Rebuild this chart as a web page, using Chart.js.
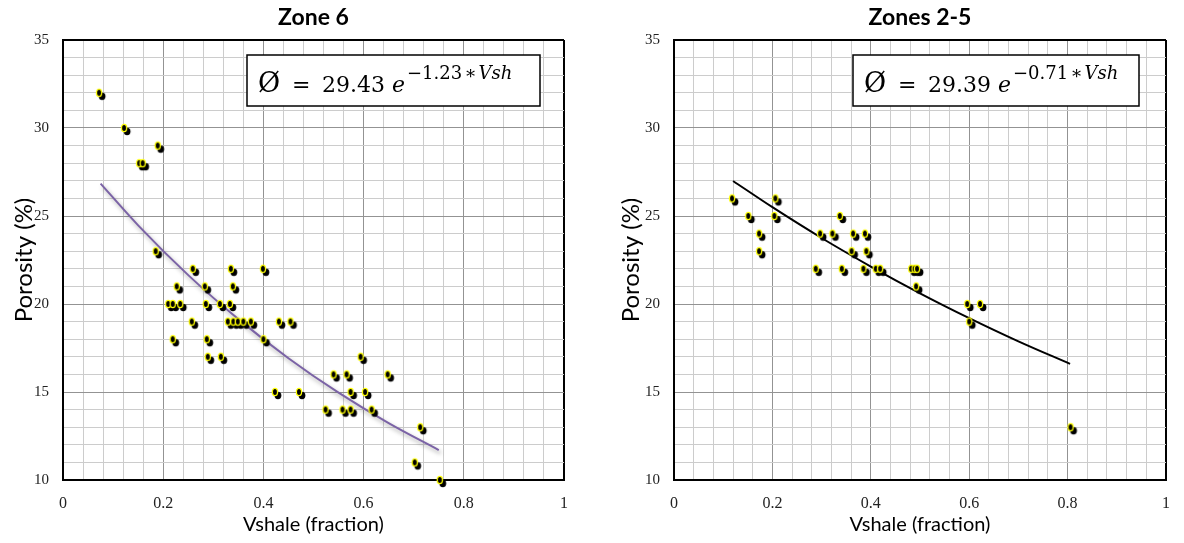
<!DOCTYPE html>
<html>
<head>
<meta charset="utf-8">
<script src="https://cdn.jsdelivr.net/npm/chart.js@4"></script>
<style>
  body { margin: 0; background: #fff; }
  .panel { position: absolute; top: 0; width: 592px; height: 543px; }
</style>
</head>
<body>
<div class="panel" style="left:0"><canvas id="zone6" width="592" height="543"></canvas></div>
<div class="panel" style="left:592px"><canvas id="zones25" width="592" height="543"></canvas></div>
<script>
// Zone 6 samples (Vshale fraction, porosity %)
const zone6Vsh = [0.072, 0.122, 0.189, 0.152, 0.159, 0.185, 0.259, 0.335, 0.399, 0.227,
  0.283, 0.339, 0.210, 0.219, 0.234, 0.285, 0.313, 0.333, 0.257, 0.329,
  0.340, 0.349, 0.360, 0.375, 0.431, 0.454, 0.219, 0.287, 0.400, 0.289,
  0.315, 0.594, 0.540, 0.566, 0.648, 0.423, 0.471, 0.574, 0.603, 0.524,
  0.558, 0.574, 0.616, 0.713, 0.702, 0.752];
const zone6Phi = [32, 30, 29, 28, 28, 23, 22, 22, 22, 21,
  21, 21, 20, 20, 20, 20, 20, 20, 19, 19,
  19, 19, 19, 19, 19, 19, 18, 18, 18, 17,
  17, 17, 16, 16, 16, 15, 15, 15, 15, 14,
  14, 14, 14, 13, 11, 10];

// Zones 2-5 samples
const zones25Vsh = [0.118, 0.206, 0.151, 0.204, 0.337, 0.173, 0.297, 0.322, 0.364, 0.388,
  0.173, 0.361, 0.391, 0.288, 0.341, 0.385, 0.410, 0.419, 0.482, 0.489,
  0.494, 0.492, 0.596, 0.622, 0.600, 0.806];
const zones25Phi = [26, 26, 25, 25, 25, 24, 24, 24, 24, 24,
  23, 23, 23, 22, 22, 22, 22, 22, 22, 22,
  22, 21, 20, 20, 19, 13];

// trend curves
const zone6FitVsh = [0.075, 0.15, 0.25, 0.35, 0.45, 0.55, 0.65, 0.75];
const zone6FitPhi = [26.84, 24.47, 21.64, 19.14, 16.92, 14.96, 13.23, 11.70];
const zones25FitVsh = [0.12, 0.2, 0.3, 0.4, 0.5, 0.6, 0.7, 0.805];
const zones25FitPhi = [26.99, 25.50, 23.75, 22.13, 20.61, 19.20, 17.88, 16.60];

const xTickLabels = ['0', '0.2', '0.4', '0.6', '0.8', '1'];
const yTickLabels = ['10', '15', '20', '25', '30', '35'];

const toPoints = (xs, ys) => xs.map((x, i) => ({x: x, y: ys[i]}));

// yellow ringed dot with its black drop shadow
function makeMarker() {
  const c = document.createElement('canvas');
  c.width = 20; c.height = 20;
  const g = c.getContext('2d');
  g.fillStyle = '#000';
  g.beginPath(); g.ellipse(13, 13.5, 3.4, 3.7, 0, 0, 2 * Math.PI); g.fill();
  g.beginPath(); g.ellipse(10, 10, 2.6, 3.6, 0, 0, 2 * Math.PI); g.fill();
  g.strokeStyle = '#ffff00'; g.lineWidth = 1.3; g.stroke();
  return c;
}
const marker = makeMarker();

const curveShadow = {
  id: 'curveShadow',
  beforeDatasetDraw(chart, args) {
    const ds = chart.data.datasets[args.index];
    if (!ds.shadow) return;
    const ctx = chart.ctx;
    ctx.save();
    ctx.shadowColor = 'rgba(0,0,0,0.35)';
    ctx.shadowBlur = 4;
    ctx.shadowOffsetX = 2;
    ctx.shadowOffsetY = 3;
  },
  afterDatasetDraw(chart, args) {
    if (chart.data.datasets[args.index].shadow) chart.ctx.restore();
  }
};

const eqBox = {
  id: 'eqBox',
  afterDraw(chart, args, opts) {
    const {ctx, chartArea} = chart;
    const x = chartArea.right - opts.right - opts.width;
    const y = chartArea.top + 15;
    ctx.save();
    ctx.fillStyle = '#fff';
    ctx.fillRect(x, y, opts.width, 51);
    ctx.strokeStyle = '#000';
    ctx.lineWidth = 1.5;
    ctx.strokeRect(x, y, opts.width, 51);
    ctx.fillStyle = '#000';
    ctx.textBaseline = 'alphabetic';
    const base = y + 37;
    ctx.font = "27px 'DejaVu Serif'";
    ctx.fillText('\u00D8', x + 11, base);
    ctx.font = "22px 'DejaVu Serif'";
    ctx.fillText('=', x + 45, base);
    ctx.fillText(opts.coef, x + 75, base);
    ctx.font = "italic 22px 'DejaVu Serif'";
    ctx.fillText('e', x + 145, base);
    let sx = x + 160;
    const sb = y + 24;
    ctx.font = "18px 'DejaVu Serif'";
    ctx.fillText('\u2212', sx, sb); sx += ctx.measureText('\u2212').width;
    ctx.fillText(opts.exp, sx, sb); sx += ctx.measureText(opts.exp).width + 2;
    ctx.fillText('\u2217', sx, sb); sx += ctx.measureText('\u2217').width + 2;
    ctx.font = "italic 18px 'DejaVu Serif'";
    ctx.fillText('Vsh', sx, sb);
    ctx.restore();
  }
};

function makeChart(id, title, vsh, phi, fitVsh, fitPhi, curveColor, shadow, axisWidth, rightPad, yTitlePad, eq) {
  const ctx = document.getElementById(id).getContext('2d');
  return new Chart(ctx, {
    type: 'scatter',
    data: {
      datasets: [
        {
          data: toPoints(vsh, phi),
          pointStyle: marker,
          pointRadius: 5,
          showLine: false,
          clip: false,
        },
        {
          type: 'line',
          data: toPoints(fitVsh, fitPhi),
          borderColor: curveColor,
          borderWidth: 2,
          pointRadius: 0,
          fill: false,
          cubicInterpolationMode: 'monotone',
          shadow: shadow,
        },
      ],
    },
    options: {
      responsive: false,
      animation: false,
      layout: { padding: { left: 0, right: rightPad, top: 0, bottom: 0 } },
      plugins: {
        legend: { display: false },
        tooltip: { enabled: false },
        title: {
          display: true,
          text: title,
          fullSize: false,
          color: '#000',
          font: { family: 'Lato', size: 23, weight: 'bold', lineHeight: 1.2 },
          padding: { top: 3.5, bottom: 8.9 },
        },
        eqBox: eq,
      },
      scales: {
        x: {
          type: 'linear',
          min: 0,
          max: 1,
          afterFit: (scale) => { scale.height = 63; },
          border: { color: '#000', width: 2 },
          grid: {
            drawTicks: false,
            color: (c) => {
              const v = c.tick.value;
              if (Math.abs(v - 1) < 1e-6) return '#000';
              return Math.abs(v * 5 - Math.round(v * 5)) < 1e-6 ? '#939393' : '#cccccc';
            },
            lineWidth: (c) => Math.abs(c.tick.value - 1) < 1e-6 ? 2 : 1,
          },
          ticks: {
            stepSize: 0.04,
            maxTicksLimit: 100,
            autoSkip: false,
            maxRotation: 0,
            padding: 14,
            color: '#222',
            font: { family: "'Liberation Serif'", size: 16 },
            callback: (v) => {
              const k = Math.round(v * 100);
              return k % 20 === 0 ? xTickLabels[k / 20] : '';
            },
          },
          title: {
            display: true,
            text: 'Vshale (fraction)',
            color: '#000',
            font: { family: 'Lato', size: 20, lineHeight: 1.2 },
            padding: { top: 0, bottom: 6 },
          },
        },
        y: {
          min: 10,
          max: 35,
          afterFit: (scale) => { scale.width = axisWidth; },
          border: { color: '#000', width: 2 },
          grid: {
            drawTicks: false,
            color: (c) => {
              const v = c.tick.value;
              if (v === 35) return '#000';
              return v % 5 === 0 ? '#939393' : '#cccccc';
            },
            lineWidth: (c) => c.tick.value === 35 ? 2 : 1,
          },
          ticks: {
            stepSize: 1,
            maxTicksLimit: 100,
            autoSkip: false,
            padding: 14,
            color: '#222',
            font: { family: "'Liberation Serif'", size: 15 },
            callback: (v) => v % 5 === 0 ? yTickLabels[(v - 10) / 5] : '',
          },
          title: {
            display: true,
            text: 'Porosity (%)',
            color: '#000',
            font: { family: 'Lato', size: 24, lineHeight: 1.2 },
            padding: { top: yTitlePad, bottom: 0 },
          },
        },
      },
    },
    plugins: [curveShadow, eqBox],
  });
}

makeChart('zone6', 'Zone 6', zone6Vsh, zone6Phi, zone6FitVsh, zone6FitPhi,
  '#7b63a6', true, 63, 28, 9.6, { right: 24, width: 293, coef: '29.43', exp: '1.23' });
makeChart('zones25', 'Zones 2-5', zones25Vsh, zones25Phi, zones25FitVsh, zones25FitPhi,
  '#000', false, 82, 7, 24.6, { right: 27, width: 286, coef: '29.39', exp: '0.71' });
</script>
</body>
</html>
